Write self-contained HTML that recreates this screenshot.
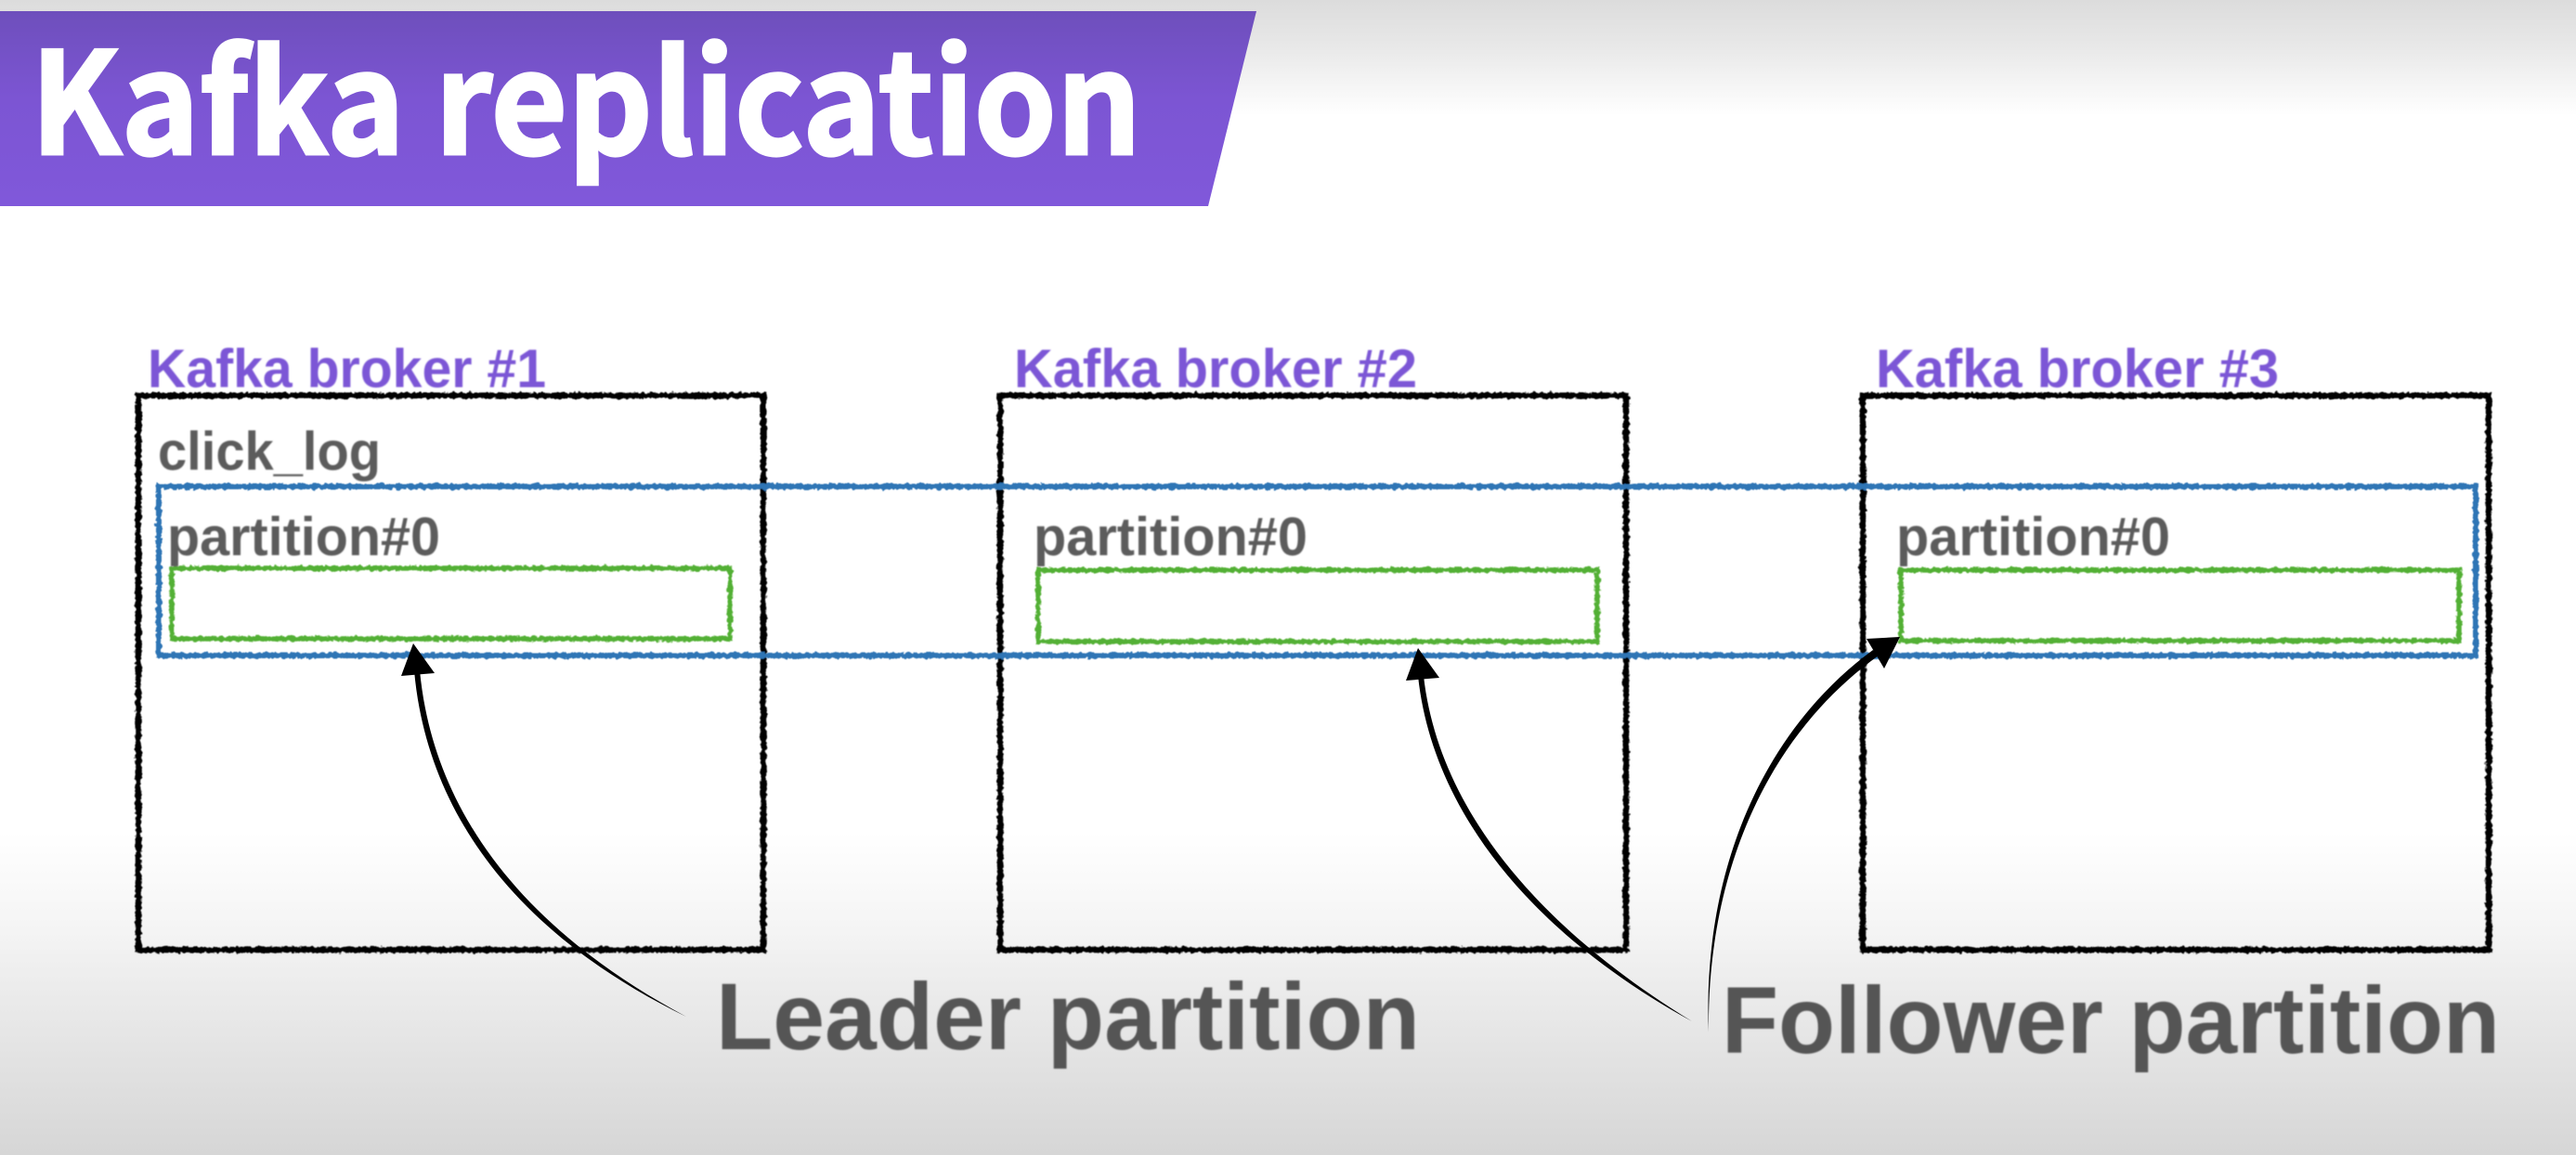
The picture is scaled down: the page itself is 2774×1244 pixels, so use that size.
<!DOCTYPE html>
<html><head><meta charset="utf-8"><style>
html,body{margin:0;padding:0;width:2774px;height:1244px;overflow:hidden;background:#fff}
svg{display:block}
</style></head><body>
<svg width="2774" height="1244" viewBox="0 0 2774 1244" xmlns="http://www.w3.org/2000/svg">
<defs>
<linearGradient id="bg" x1="0" y1="0" x2="0" y2="1">
<stop offset="0" stop-color="#dcdcdc"/><stop offset=".04" stop-color="#e8e8e8"/><stop offset=".1" stop-color="#fff"/>
<stop offset=".72" stop-color="#fff"/><stop offset=".8" stop-color="#f5f5f5"/><stop offset=".86" stop-color="#ebebeb"/><stop offset=".94" stop-color="#dfdfdf"/><stop offset="1" stop-color="#d6d6d6"/>
</linearGradient>
<linearGradient id="pb" x1="0" y1="0" x2="0" y2="1">
<stop offset="0" stop-color="#6e4fbc"/><stop offset=".45" stop-color="#7c55d3"/><stop offset="1" stop-color="#8058da"/>
</linearGradient>
<filter id="rough" x="-2%" y="-2%" width="104%" height="104%"><feTurbulence type="fractalNoise" baseFrequency="0.22" numOctaves="2" seed="4"/><feDisplacementMap in="SourceGraphic" scale="5" xChannelSelector="R" yChannelSelector="G"/><feGaussianBlur stdDeviation="0.5"/></filter>
<filter id="soft"><feGaussianBlur stdDeviation="0.7"/></filter>
</defs>
<rect width="2774" height="1244" fill="url(#bg)"/>
<polygon points="0,12 1353,12 1301,222 0,222" fill="url(#pb)"/>
<text x="33" y="166" font-family="'Noto Sans CJK KR','Liberation Sans',sans-serif" font-weight="700" font-size="152" fill="#fff" stroke="#fff" stroke-width="3" textLength="1196" lengthAdjust="spacingAndGlyphs">Kafka replication</text>

<g fill="none" filter="url(#rough)">
<g stroke="#000" stroke-width="6.5">
<rect x="149" y="426" width="673" height="597"/>
<rect x="1077" y="426" width="674" height="597"/>
<rect x="2006" y="426" width="674" height="597"/>
</g>
<rect x="171" y="524" width="2495" height="182" stroke="#2f74b5" stroke-width="6"/>
<g stroke="#52b035" stroke-width="5.5">
<rect x="185" y="612" width="601" height="76"/>
<rect x="1118" y="614" width="602" height="77"/>
<rect x="2047" y="614" width="601" height="76"/>
</g>
</g>

<g filter="url(#soft)" font-family="'Liberation Sans',Arial,sans-serif" font-weight="700">
<g fill="#7b57d6" font-size="58">
<text x="159" y="417" textLength="429" lengthAdjust="spacingAndGlyphs">Kafka broker #1</text>
<text x="1092" y="417" textLength="434" lengthAdjust="spacingAndGlyphs">Kafka broker #2</text>
<text x="2020" y="417" textLength="434" lengthAdjust="spacingAndGlyphs">Kafka broker #3</text>
</g>
<g fill="#5c5c5c" font-size="58">
<text x="170" y="506" textLength="240" lengthAdjust="spacingAndGlyphs">click_log</text>
<text x="180" y="598" textLength="294" lengthAdjust="spacingAndGlyphs">partition#0</text>
<text x="1113" y="598" textLength="295" lengthAdjust="spacingAndGlyphs">partition#0</text>
<text x="2042" y="598" textLength="295" lengthAdjust="spacingAndGlyphs">partition#0</text>
</g>
<g fill="#555" font-size="102">
<text x="771" y="1130" textLength="758" lengthAdjust="spacingAndGlyphs">Leader partition</text>
<text x="1854" y="1134" textLength="838" lengthAdjust="spacingAndGlyphs">Follower partition</text>
</g>
</g>

<g fill="#000">
<polygon points="445,693 468,725 432,728"/>
<path d="M446,722 C459,870 550,1003 739,1095 C 558,998 466,870 452,722 Z"/>
<polygon points="1527,698 1550,730 1514,733"/>
<path d="M1527,728 C1542,870 1645,1003 1822,1100 C1654,997 1549,870 1533,728 Z"/>
<polygon points="2046,686 2010,688 2029,720"/>
<path d="M2017,700 C1897,788 1833,940 1840,1112 C1838,940 1903,792 2023,706 Z"/>
</g>
</svg>
</body></html>
